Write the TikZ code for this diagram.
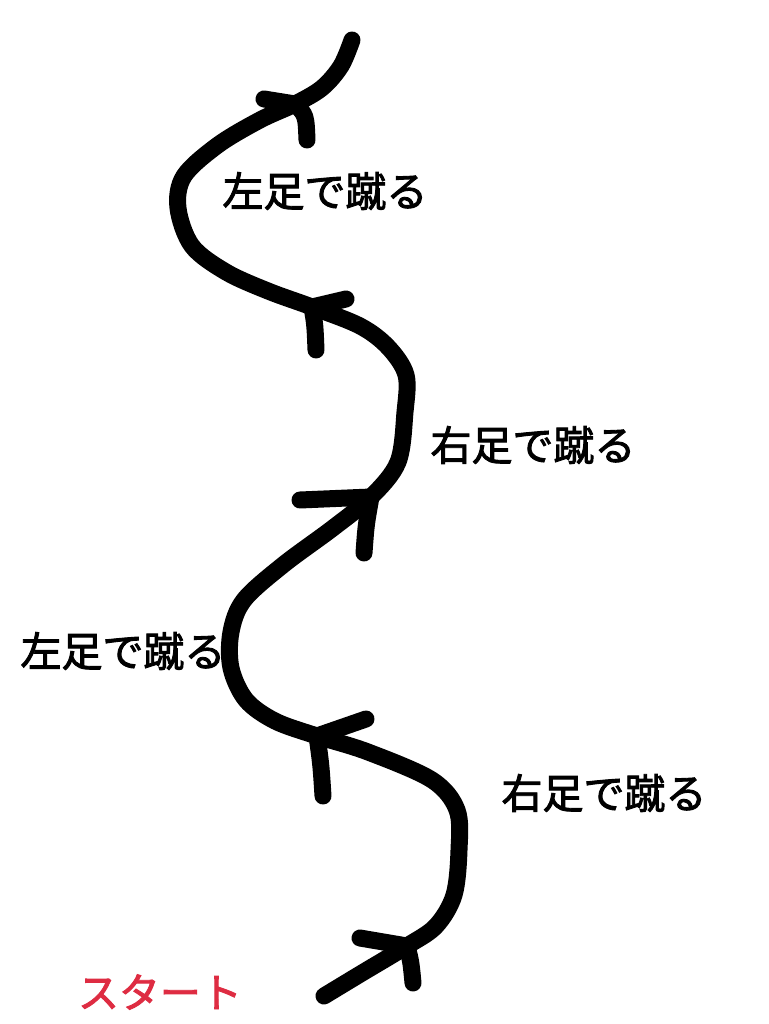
\documentclass[tikz,border=0pt]{standalone}
\usepackage{fontspec}
\setmainfont{Noto Sans CJK JP}
\newfontfamily\jpfont[FakeBold=2.2]{Noto Sans CJK JP}
\definecolor{startred}{RGB}{222,44,66}
\begin{document}
\begin{tikzpicture}[x=1pt,y=-1pt,
  stroke/.style={line width=17pt,line cap=round,line join=round},
  label/.style={inner sep=0pt,font=\jpfont\fontsize{41}{48}\selectfont},
  startlabel/.style={label,text=startred}]
\useasboundingbox (0,0) rectangle (768,1024);
% path points
\coordinate (p0) at (324,996);
\coordinate (a1) at (407,946);
\coordinate (a2) at (317,736);
\coordinate (a3) at (371,497);
\coordinate (a4) at (312,307);
\coordinate (a5) at (295,104);
\coordinate (pe) at (352,40);
% main squiggle
\draw[stroke] plot[smooth,tension=0.55] coordinates {
  (324,996) (362,973) (407,946) (436,926) (454,895) (459,850) (457,810)
  (432,780) (368,752) (317,736) (275,721) (246,700) (231,668) (231,632)
  (244,600) (283,565) (333,528) (371,497) (398,462) (405,412) (406,375)
  (388,347) (360,326) (312,307) (268,291) (226,272) (192,246) (178,208)
  (184,176) (218,145) (260,120) (295,104) (322,88) (341,66) (352,40)};
% arrow chevrons
\draw[stroke] (360,938) -- (a1) .. controls (411,962) .. (413,983);
\draw[stroke] (366,719) -- (a2) .. controls (321,765) .. (323,796);
\draw[stroke] (300,500) -- (a3) .. controls (366,525) .. (364,553);
\draw[stroke] (346,299) -- (a4) .. controls (315,325) .. (316,350);
\draw[stroke] (264,99) -- (a5) .. controls (306,115) .. (307,140);
% labels
\node[label] (t1) at (325,191) {左足で蹴る};
\node[label] (t2) at (533,445) {右足で蹴る};
\node[label] (t3) at (123,651) {左足で蹴る};
\node[label] (t4) at (604,793) {右足で蹴る};
\node[startlabel] (t5) at (160,992) {スタート};
\end{tikzpicture}
\end{document}
